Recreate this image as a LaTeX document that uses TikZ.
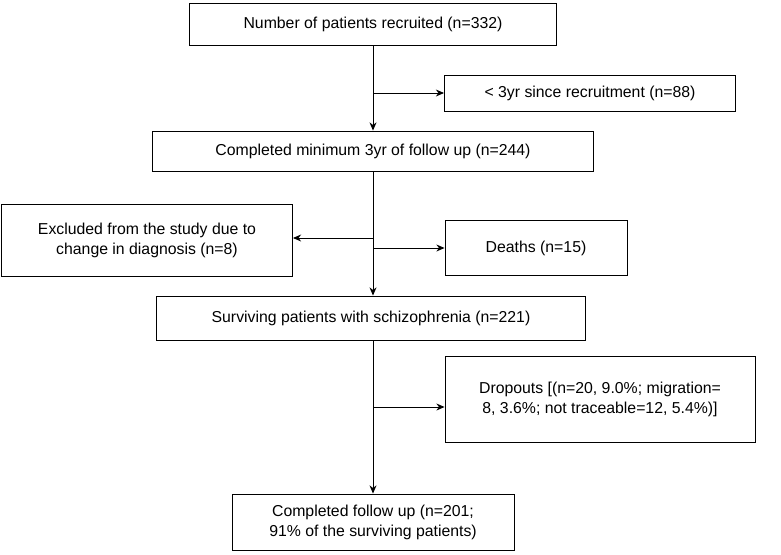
\documentclass[tikz,border=0pt]{standalone}
\usepackage{fontspec}
\setmainfont{Liberation Sans}
\usetikzlibrary{arrows.meta}
\tikzset{
  flowbox/.style={draw, thick, inner sep=2pt, align=center, font=\fontsize{13.5}{17}\selectfont},
  flowline/.style={thick},
  flowarrow/.style={thick, -{Stealth[length=7pt,width=6pt]}}
}
\begin{document}
\begin{tikzpicture}[x=0.03cm, y=-0.03cm]
\useasboundingbox (0,0) rectangle (781,554);
% boxes
\node[flowbox, minimum width=367*0.03cm, minimum height=42*0.03cm] (recruited) at (373,24) {Number of patients recruited (n=332)};
\node[flowbox, minimum width=291*0.03cm, minimum height=36*0.03cm] (recent) at (590,93) {\textless{} 3yr since recruitment (n=88)};
\node[flowbox, minimum width=441*0.03cm, minimum height=40*0.03cm] (minimum) at (373,151) {Completed minimum 3yr of follow up (n=244)};
\node[flowbox, minimum width=291*0.03cm, minimum height=72*0.03cm] (excluded) at (147,240) {Excluded from the study due to\\change in diagnosis (n=8)};
\node[flowbox, minimum width=182*0.03cm, minimum height=55*0.03cm] (deaths) at (536,248) {Deaths (n=15)};
\node[flowbox, minimum width=429*0.03cm, minimum height=44*0.03cm] (surviving) at (371,318) {Surviving patients with schizophrenia (n=221)};
\node[flowbox, minimum width=310*0.03cm, minimum height=86*0.03cm] (dropouts) at (600,399) {Dropouts [(n=20, 9.0\%; migration=\\8, 3.6\%; not traceable=12, 5.4\%)]};
\node[flowbox, minimum width=282*0.03cm, minimum height=56*0.03cm] (followup) at (373,522) {Completed follow up (n=201;\\91\% of the surviving patients)};

% connectors
\coordinate (b1) at (373,93);
\coordinate (b2) at (373,238);
\coordinate (b3) at (373,248);
\coordinate (b4) at (373,407);
\draw[flowarrow] (recruited.south -| b1) -- (minimum.north -| b1);
\draw[flowarrow] (b1) -- (recent.west |- b1);
\draw[flowarrow] (minimum.south -| b2) -- (surviving.north -| b2);
\draw[flowarrow] (b2) -- (excluded.east |- b2);
\draw[flowarrow] (b3) -- (deaths.west |- b3);
\draw[flowarrow] (surviving.south -| b4) -- (followup.north -| b4);
\draw[flowarrow] (b4) -- (dropouts.west |- b4);
\end{tikzpicture}
\end{document}
